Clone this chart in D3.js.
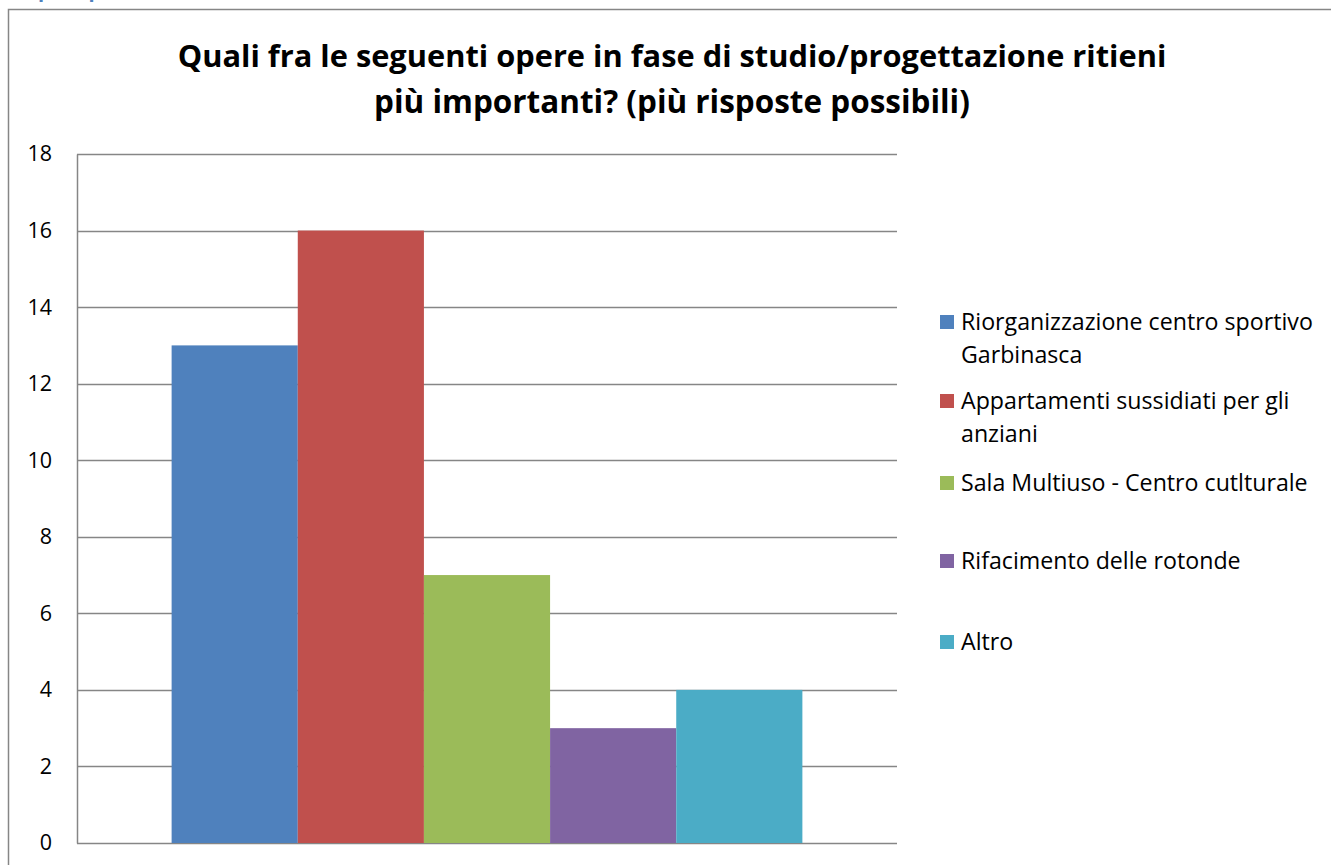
<!DOCTYPE html>
<html>
<head>
<meta charset="utf-8">
<script src="https://cdn.jsdelivr.net/npm/d3@7"></script>
<style>
  html, body { margin: 0; padding: 0; background: #fff; overflow: hidden; }
  svg { display: block; font-family: "Open Sans", "Noto Sans", sans-serif; }
</style>
</head>
<body>
<div id="chart"></div>
<script>
// dati
const categories = ["Opere"];
const seriesNames = [
  "Riorganizzazione centro sportivo Garbinasca",
  "Appartamenti sussidiati per gli anziani",
  "Sala Multiuso - Centro cutlturale",
  "Rifacimento delle rotonde",
  "Altro"
];
const seriesValues = [13, 16, 7, 3, 4];
const legendLines = [
  ["Riorganizzazione centro sportivo", "Garbinasca"],
  ["Appartamenti sussidiati per gli", "anziani"],
  ["Sala Multiuso - Centro cutlturale"],
  ["Rifacimento delle rotonde"],
  ["Altro"]
];
const yTicks = [0, 2, 4, 6, 8, 10, 12, 14, 16, 18];
const titleLines = [
  "Quali fra le seguenti opere in fase di studio/progettazione ritieni",
  "più importanti? (più risposte possibili)"
];
const colors = ["#4F81BD", "#C0504D", "#9BBB59", "#8064A2", "#4BACC6"];

const width = 1331, height = 865;
const margins = {top: 154, left: 77, right: 434, bottom: 22};
const gridColor = "#868686";

const svg = d3.select("#chart").append("svg")
  .attr("width", width)
  .attr("height", height);

// pezzo di intestazione blu, tagliato in alto come nel documento
svg.append("text")
  .attr("x", 22).attr("y", -3)
  .attr("fill", "#4F81BD")
  .attr("font-weight", "bold")
  .attr("font-size", 20)
  .text("Opere pubbliche");

// cornice del grafico
svg.append("path")
  .attr("d", `M8.5,${height + 2}V9.5H${width + 2}`)
  .attr("fill", "none")
  .attr("stroke", gridColor)
  .attr("stroke-width", 1.5);

// titolo, adattato alla larghezza del riferimento
const titleWidths = [989, 596];
const titleY = [57, 103];
titleLines.forEach((t, i) => {
  const el = svg.append("text")
    .attr("x", 672).attr("y", titleY[i] + 10)
    .attr("text-anchor", "middle")
    .attr("font-weight", "bold")
    .attr("font-size", 100)
    .attr("fill", "#000")
    .text(t);
  const w = el.node().getComputedTextLength();
  el.attr("font-size", 100 * titleWidths[i] / w);
});

const bodyW = width - margins.left - margins.right;
const bodyH = height - margins.top - margins.bottom;
const body = svg.append("g")
  .attr("transform", `translate(${margins.left},${margins.top})`);

const y = d3.scaleLinear().domain([0, 18]).range([bodyH, 0]);
const x0 = d3.scaleBand().domain(categories).range([0, bodyW])
  .paddingInner(0).paddingOuter(0.15);
const x1 = d3.scaleBand().domain(d3.range(seriesValues.length))
  .range([0, x0.bandwidth()]).padding(0);

// griglia
body.append("g")
  .selectAll("line")
  .data(yTicks)
  .join("line")
  .attr("x1", 0).attr("x2", bodyW)
  .attr("y1", d => Math.round(y(d)) + 0.5)
  .attr("y2", d => Math.round(y(d)) + 0.5)
  .attr("stroke", gridColor)
  .attr("stroke-width", 1.5);

// barre
body.append("g")
  .attr("transform", `translate(${x0(categories[0])},0)`)
  .selectAll("rect")
  .data(seriesValues)
  .join("rect")
  .attr("x", (d, i) => x1(i))
  .attr("width", x1.bandwidth())
  .attr("y", d => y(d))
  .attr("height", d => y(0) - y(d))
  .attr("fill", (d, i) => colors[i]);

// asse y
const yAxis = body.append("g")
  .call(d3.axisLeft(y).tickValues(yTicks).tickSize(0).tickPadding(25));
yAxis.select(".domain")
  .attr("stroke", gridColor)
  .attr("stroke-width", 1.5);
yAxis.selectAll("text")
  .attr("font-family", "\"Open Sans\", sans-serif")
  .attr("font-size", 21.5)
  .attr("fill", "#000");

// legenda
const legendY = [322, 401, 483, 561, 642];
const legend = svg.append("g");
// misura la riga più lunga per avvicinarsi alla larghezza del riferimento
const probe = svg.append("text").attr("font-size", 100).text(legendLines[0][0]);
const legendFont = 100 * 352 / probe.node().getComputedTextLength();
probe.remove();
legendLines.forEach((lines, i) => {
  const g = legend.append("g");
  g.append("rect")
    .attr("x", 940).attr("y", legendY[i] - 7)
    .attr("width", 14).attr("height", 14)
    .attr("fill", colors[i]);
  lines.forEach((ln, j) => {
    g.append("text")
      .attr("x", 961)
      .attr("y", legendY[i] + j * 33 + 8)
      .attr("font-size", legendFont)
      .attr("fill", "#000")
      .text(ln);
  });
});
</script>
</body>
</html>
